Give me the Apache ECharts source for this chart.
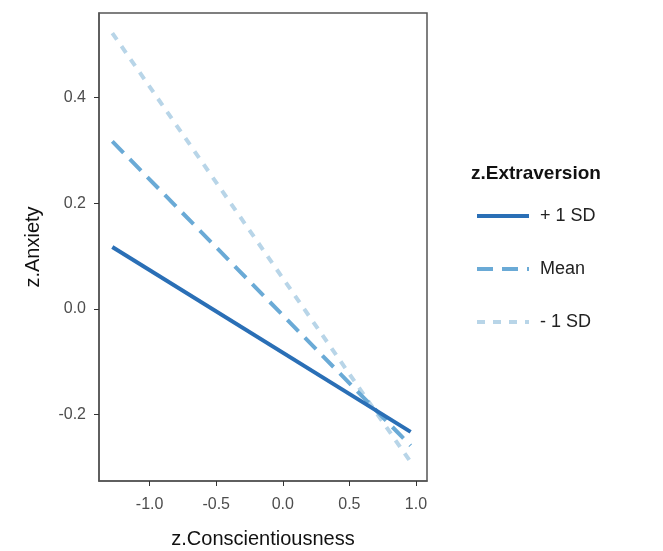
<!DOCTYPE html>
<html>
<head>
<meta charset="utf-8">
<script src="https://cdn.jsdelivr.net/npm/echarts@6/dist/echarts.min.js"></script>
<style>
  html, body { margin: 0; padding: 0; background: #fff; }
  #chart { width: 663px; height: 551px; }
</style>
</head>
<body>
<div id="chart"></div>
<script>
// 数据
var xEnds = [-1.28, 0.96];
var plusSD = [0.117, -0.233];
var meanSD = [0.317, -0.259];
var minusSD = [0.522, -0.29];
var xTicks = [-1.0, -0.5, 0.0, 0.5, 1.0];
var yTicks = [-0.2, 0.0, 0.2, 0.4];
var names = ["+ 1 SD", "Mean", "- 1 SD"];
var colors = ["#2a6fb6", "#6aaad6", "#b8d5e8"];

function pairs(ys) {
  return xEnds.map(function (x, i) { return [x, ys[i]]; });
}

var chart = echarts.init(document.getElementById("chart"));

var tickLabel = { color: "#4d4d4d", fontSize: 16, fontFamily: "Liberation Sans, Arial" };

var option = {
  animation: false,
  title: {
    text: "z.Extraversion",
    left: 466,
    top: 159,
    textStyle: { fontSize: 19, fontWeight: "bold", color: "#111", fontFamily: "Liberation Sans, Arial" }
  },
  legend: {
    orient: "vertical",
    left: 470,
    top: 202,
    itemWidth: 52,
    itemHeight: 16,
    itemGap: 35,
    data: names,
    itemStyle: { opacity: 0, borderWidth: 0 },
    lineStyle: { width: 4 },
    textStyle: { fontSize: 18, color: "#222", fontFamily: "Liberation Sans, Arial", padding: [0, 0, 0, 6] }
  },
  grid: {
    left: 99,
    right: 236,
    top: 13,
    bottom: 70,
    outerBoundsMode: "none",
    containLabel: false,
    show: true,
    borderColor: "#555",
    borderWidth: 1.5
  },
  xAxis: {
    type: "value",
    min: -1.38,
    max: 1.083,
    name: "z.Conscientiousness",
    nameLocation: "middle",
    nameGap: 48,
    nameTextStyle: { fontSize: 20, color: "#111", fontFamily: "Liberation Sans, Arial" },
    axisLine: { show: true, onZero: false, lineStyle: { color: "#555", width: 1.5 } },
    axisTick: { show: true, length: 5, customValues: xTicks, lineStyle: { color: "#333" } },
    axisLabel: Object.assign({ customValues: xTicks, margin: 16, formatter: function (v) { return v.toFixed(1); } }, tickLabel),
    splitLine: { show: false }
  },
  yAxis: {
    type: "value",
    min: -0.326,
    max: 0.56,
    name: "z.Anxiety",
    nameLocation: "middle",
    nameGap: 56,
    nameTextStyle: { fontSize: 20, color: "#111", fontFamily: "Liberation Sans, Arial" },
    axisLine: { show: true, onZero: false, lineStyle: { color: "#555", width: 1.5 } },
    axisTick: { show: true, length: 5, customValues: yTicks, lineStyle: { color: "#333" } },
    axisLabel: Object.assign({ customValues: yTicks, margin: 13, formatter: function (v) { return v.toFixed(1); } }, tickLabel),
    splitLine: { show: false }
  },
  series: [
    {
      name: names[0], type: "line", symbol: "none", data: pairs(plusSD),
      lineStyle: { color: colors[0], width: 4, type: "solid" }, itemStyle: { color: colors[0] }, z: 4
    },
    {
      name: names[1], type: "line", symbol: "none", data: pairs(meanSD),
      lineStyle: { color: colors[1], width: 4, type: [16, 9] }, itemStyle: { color: colors[1] }, z: 3
    },
    {
      name: names[2], type: "line", symbol: "none", data: pairs(minusSD),
      lineStyle: { color: colors[2], width: 4, type: [8, 8] }, itemStyle: { color: colors[2] }, z: 2
    }
  ]
};

chart.setOption(option);
</script>
</body>
</html>
